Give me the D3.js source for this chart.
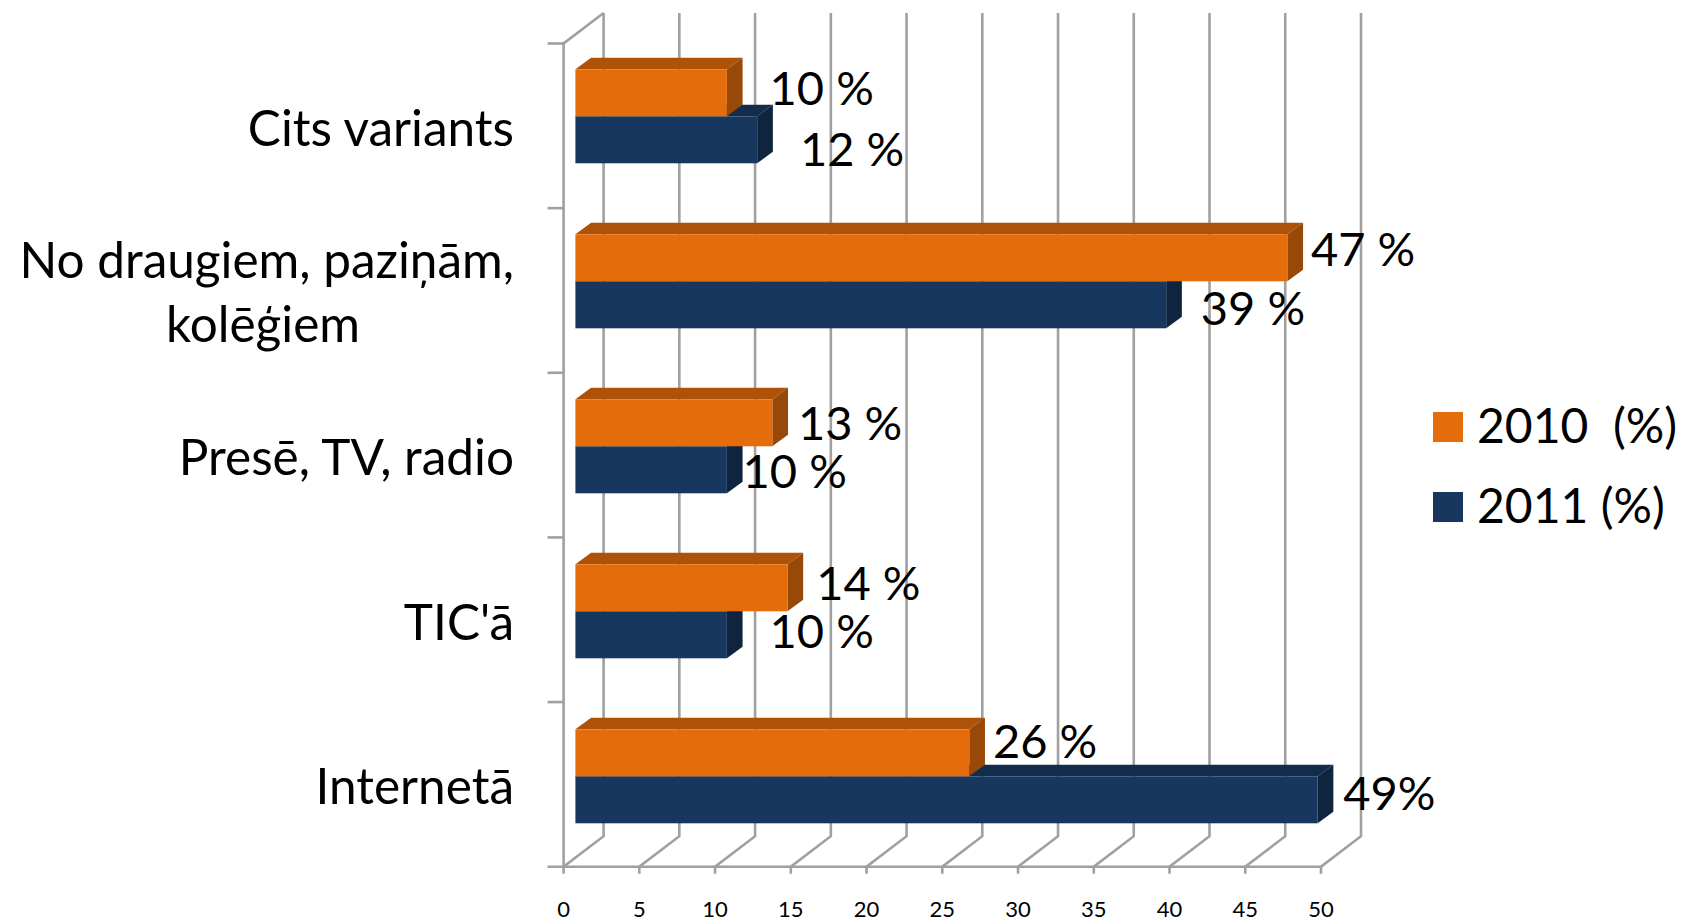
<!DOCTYPE html>
<html><head><meta charset="utf-8">
<script src="https://cdn.jsdelivr.net/npm/d3@7/dist/d3.min.js"></script>
<style>html,body{margin:0;padding:0;background:#fff}svg{display:block}text{font-family:Lato,"Open Sans",sans-serif;fill:#000}</style>
</head><body><svg id="c" width="1681" height="920"></svg>
<script>
const categories = ["Cits variants", "No draugiem, paziņām,|kolēģiem", "Presē, TV, radio", "TIC'ā", "Internetā"];
const series2010 = [10, 47, 13, 14, 26];
const series2011 = [12, 39, 10, 10, 49];
const labels2010 = ["10 %", "47 %", "13 %", "14 %", "26 %"];
const labels2011 = ["12 %", "39 %", "10 %", "10 %", "49%"];
const legendNames = ["2010  (%)", "2011 (%)"];
const xTicks = [0,5,10,15,20,25,30,35,40,45,50];
// manual label nudges [dx, dy] from the end of each bar, as in the source slide
const nudge2010 = [[27,-4],[8,-8],[10,1],[13,-4],[8,-11]];
const nudge2011 = [[27,10],[19,4],[0,2],[27,-3],[10,-6]];

const svg = d3.select("#c");
const grid = "#a0a0a0";
const x = d3.scaleLinear().domain([0,50]).range([563.6,1321]);
const yBand = d3.scaleBand().domain(categories).range([43.5,866.7]);
const barBand = d3.scaleBand().domain(categories).range([33.8,858.8]);
const depth = {x:40,y:-30.5};
const barDepth = {x:15.7,y:-11.6};
const barStart = {x:11.8,y:0};
const barH = 47;
const colors = {
  a:{front:"#E46C0A",top:"#AD5207",side:"#984807"},
  b:{front:"#17375E",top:"#122C4B",side:"#0F253F"}
};

// walls
const g = svg.append("g").attr("fill","none").attr("stroke",grid).attr("stroke-width",2.6);
const y0 = yBand.range()[1], yT = yBand.range()[0];
xTicks.forEach(t=>{
  const px=x(t);
  g.append("path").attr("d",`M${px},${y0+7}V${y0}L${px+depth.x},${y0+depth.y}V${yT+depth.y}`);
});
g.append("path").attr("d",`M${x(0)},${y0}V${yT}L${x(0)+depth.x},${yT+depth.y}`);
g.append("path").attr("d",`M${x(0)-16},${y0}H${x(50)}`);
categories.forEach(c=>g.append("path").attr("d",`M${x(0)-16},${yBand(c)}H${x(0)}`));

function bar(c,v,yOff,col){
  const x0=x(0)+barStart.x, x1=x0+(x(v)-x(0)), yb=barBand(c)+barBand.bandwidth()/2+barStart.y+yOff;
  const p=svg.append("g");
  p.append("path").attr("fill",col.top).attr("d",`M${x0},${yb}l${barDepth.x},${barDepth.y}H${x1+barDepth.x}L${x1},${yb}Z`);
  p.append("path").attr("fill",col.side).attr("d",`M${x1},${yb}l${barDepth.x},${barDepth.y}v${barH}L${x1},${yb+barH}Z`);
  p.append("rect").attr("x",x0).attr("y",yb).attr("width",x1-x0).attr("height",barH).attr("fill",col.front);
  return [x1+barDepth.x,yb];
}
const ends=[];
categories.forEach((c,i)=>{
  const b=bar(c,series2011[i],0,colors.b);
  const a=bar(c,series2010[i],-barH,colors.a);
  ends.push({a,b});
});
const lab=svg.append("g").attr("font-size",47);
categories.forEach((c,i)=>{
  lab.append("text").attr("x",ends[i].a[0]+nudge2010[i][0]).attr("y",ends[i].a[1]+40+nudge2010[i][1]).text(labels2010[i]);
  lab.append("text").attr("x",ends[i].b[0]+nudge2011[i][0]).attr("y",ends[i].b[1]+40+nudge2011[i][1]).text(labels2011[i]);
});
// category labels
const cl=svg.append("g").attr("font-size",49.5);
categories.forEach(c=>{
  const cy=yBand(c)+yBand.bandwidth()/2-7;
  const parts=c.split("|");
  if(parts.length===1){
    cl.append("text").attr("x",514).attr("y",cy+27).attr("text-anchor","end").text(parts[0]);
  } else {
    cl.append("text").attr("x",514).attr("y",cy-5).attr("text-anchor","end").text(parts[0]);
    cl.append("text").attr("x",263).attr("y",cy+59).attr("text-anchor","middle").text(parts[1]);
  }
});
// x tick labels
svg.append("g").attr("font-size",22).selectAll("text").data(xTicks).join("text")
  .attr("x",d=>x(d)).attr("y",916.5).attr("text-anchor","middle").text(d=>d);
// legend
const ly=d3.scalePoint().domain(legendNames).range([412,492]);
legendNames.forEach((n,i)=>{
  svg.append("rect").attr("x",1433).attr("y",ly(n)).attr("width",30).attr("height",30).attr("fill",i?colors.b.front:colors.a.front);
  svg.append("text").attr("x",1477).attr("y",ly(n)+31).attr("font-size",48).attr("xml:space","preserve").style("white-space","pre").text(n);
});
</script></body></html>
